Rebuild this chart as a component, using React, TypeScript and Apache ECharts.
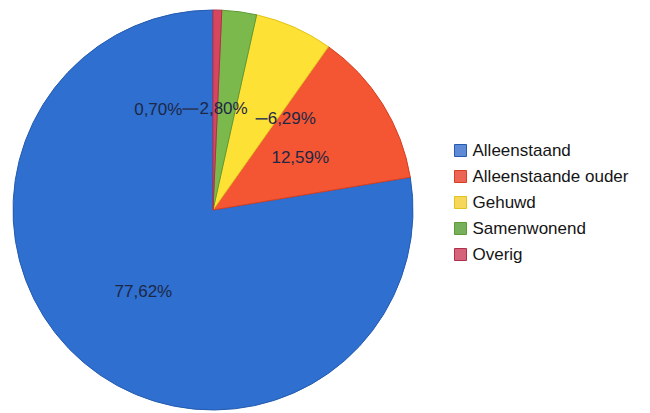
import React, { useEffect, useRef } from "react";
import * as echarts from "echarts";

const categories = ["Alleenstaand", "Alleenstaande ouder", "Gehuwd", "Samenwonend", "Overig"];
const values = [77.62, 12.59, 6.29, 2.8, 0.7];
const colors = ["#2f6fcf", "#f45532", "#fde134", "#7cb94c", "#d7465f"];
const borders = ["#245bb0", "#d63f22", "#e0c41e", "#5e9a36", "#b0304a"];
const legendColors = ["#5f8bd6", "#ec6454", "#f7d75a", "#76b05a", "#d5637a"];
// label nudges (dx, dy) for the small slices, like the original's moved labels
const labelNudge = [
  [-3, 3],
  [0, 2],
  [31, 3],
  [-3, 1],
  [-49, 2],
];

const fmt = (v: number) => v.toFixed(2).replace(".", ",") + "%";

export default function App() {
  const ref = useRef<HTMLDivElement>(null);
  useEffect(() => {
    document.body.style.margin = "0";
    const chart = echarts.init(ref.current!, null, { renderer: "svg" });
    const font = "'Liberation Sans', Arial, sans-serif";
    chart.setOption({
      animation: false,
      backgroundColor: "#ffffff",
      legend: {
        orient: "vertical",
        left: 449,
        top: 137,
        itemWidth: 12,
        itemHeight: 12,
        itemGap: 9,
        icon: "rect",
        data: categories.map((name, i) => ({
          name,
          itemStyle: { color: legendColors[i], borderColor: borders[i], borderWidth: 1 },
        })),
        textStyle: {
          fontFamily: font,
          fontSize: 17,
          color: "#151515",
          lineHeight: 17,
          padding: [0, 0, 0, 1],
        },
      },
      series: [
        {
          type: "pie",
          center: [213, 210],
          radius: [0, 200],
          startAngle: 90,
          clockwise: false,
          avoidLabelOverlap: false,
          data: categories.map((name, i) => ({
            name,
            value: values[i],
            itemStyle: { color: colors[i], borderColor: borders[i], borderWidth: 1 },
          })),
          label: {
            show: true,
            position: "inside",
            fontFamily: font,
            fontSize: 17,
            color: "#1c2846",
            formatter: (p: any) => {
              const t = fmt(p.value);
              if (p.dataIndex === 4) return t + "{ln|}";
              if (p.dataIndex === 2) return "{ln2|}" + t;
              return t;
            },
            rich: {
              ln: { width: 16, height: 1.5, backgroundColor: "#2a3350", verticalAlign: "middle" },
              ln2: { width: 12, height: 1.5, backgroundColor: "#2a3350", verticalAlign: "middle" },
            },
          },
          labelLine: { show: false },
          labelLayout: (p: any) => {
            const n = labelNudge[p.dataIndex] || [0, 0];
            return { dx: n[0], dy: n[1] };
          },
          emphasis: { disabled: true },
        },
      ],
    });
    return () => chart.dispose();
  }, []);
  return <div ref={ref} style={{ position: "absolute", left: 0, top: 0, width: 650, height: 413 }} />;
}
